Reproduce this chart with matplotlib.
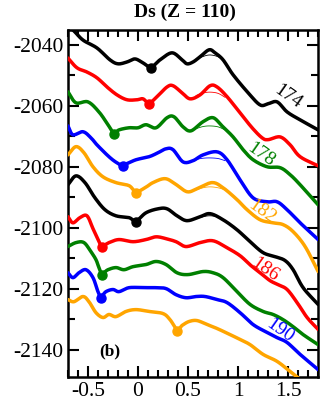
import numpy as np
import matplotlib
matplotlib.use("Agg")
import matplotlib.pyplot as plt
from matplotlib.ticker import MultipleLocator

plt.rcParams['font.family'] = ['Liberation Serif', 'DejaVu Serif']

neutrons = [174, 176, 178, 180, 182, 184, 186, 188, 190, 192]
colors = ['black', 'red', 'green', 'blue', 'orange'] * 2

x174 = [-0.70, -0.65, -0.55, -0.41, -0.28, -0.20, -0.11, -0.03, 0.05, 0.13, 0.22, 0.34, 0.44, 0.49, 0.55, 0.62, 0.71, 0.77, 0.85, 0.95, 1.10, 1.22, 1.30, 1.39, 1.49, 1.62, 1.80]
e174 = [-2034.4, -2035.1, -2038.4, -2041.0, -2044.9, -2046.2, -2045.6, -2044.6, -2045.9, -2047.3, -2044.9, -2042.6, -2044.9, -2046.2, -2045.6, -2043.9, -2041.6, -2042.6, -2044.9, -2049.8, -2055.7, -2059.7, -2059.3, -2058.7, -2062.0, -2064.6, -2067.9]

x176 = [-0.70, -0.61, -0.51, -0.41, -0.31, -0.21, -0.11, -0.01, 0.05, 0.11, 0.19, 0.29, 0.35, 0.44, 0.52, 0.62, 0.72, 0.79, 0.89, 1.02, 1.14, 1.24, 1.30, 1.42, 1.52, 1.62, 1.80]
e176 = [-2044.3, -2047.5, -2048.9, -2050.8, -2053.8, -2056.4, -2058.0, -2058.0, -2057.7, -2059.1, -2057.0, -2053.8, -2053.4, -2055.7, -2057.7, -2056.4, -2053.4, -2053.8, -2057.0, -2062.3, -2067.2, -2070.5, -2071.1, -2070.2, -2072.8, -2076.7, -2079.7]

x178 = [-0.70, -0.62, -0.50, -0.39, -0.30, -0.24, -0.19, -0.09, 0.00, 0.08, 0.18, 0.29, 0.36, 0.45, 0.53, 0.65, 0.75, 0.84, 0.95, 1.05, 1.15, 1.29, 1.42, 1.52, 1.62, 1.80]
e178 = [-2055.4, -2059.0, -2058.7, -2062.0, -2066.2, -2069.0, -2067.9, -2067.2, -2067.2, -2066.2, -2067.2, -2063.9, -2063.6, -2066.9, -2068.2, -2065.2, -2063.9, -2066.6, -2070.2, -2074.4, -2077.7, -2080.0, -2080.3, -2082.6, -2085.9, -2092.5]

x180 = [-0.70, -0.65, -0.55, -0.47, -0.41, -0.29, -0.21, -0.15, -0.02, 0.11, 0.20, 0.28, 0.35, 0.45, 0.55, 0.65, 0.79, 0.89, 1.02, 1.15, 1.29, 1.39, 1.49, 1.62, 1.80]
e180 = [-2066.6, -2069.5, -2068.5, -2070.5, -2072.8, -2076.7, -2078.7, -2079.4, -2077.7, -2076.7, -2075.4, -2074.1, -2074.4, -2078.4, -2078.0, -2076.1, -2075.1, -2077.7, -2084.3, -2090.2, -2091.5, -2091.5, -2094.1, -2098.4, -2103.9]

x182 = [-0.70, -0.62, -0.54, -0.45, -0.35, -0.22, -0.09, -0.02, 0.07, 0.15, 0.27, 0.37, 0.49, 0.59, 0.74, 0.85, 0.99, 1.09, 1.22, 1.35, 1.45, 1.55, 1.67, 1.80]
e182 = [-2076.1, -2073.4, -2075.4, -2080.0, -2083.3, -2085.2, -2086.2, -2088.2, -2086.9, -2085.2, -2083.9, -2085.6, -2088.2, -2087.2, -2085.2, -2086.9, -2090.8, -2094.1, -2097.4, -2098.4, -2099.0, -2101.3, -2106.2, -2114.4]

x184 = [-0.70, -0.62, -0.53, -0.43, -0.33, -0.22, -0.09, -0.02, 0.08, 0.20, 0.29, 0.39, 0.49, 0.62, 0.72, 0.85, 0.99, 1.12, 1.25, 1.37, 1.47, 1.55, 1.65, 1.80]
e184 = [-2085.9, -2083.0, -2085.2, -2090.2, -2094.1, -2096.1, -2096.7, -2097.8, -2095.1, -2093.8, -2093.8, -2096.1, -2097.7, -2096.4, -2095.4, -2097.4, -2100.7, -2104.6, -2108.2, -2109.5, -2110.8, -2113.8, -2119.7, -2125.2]

x186 = [-0.70, -0.65, -0.58, -0.51, -0.45, -0.39, -0.36, -0.29, -0.19, -0.05, 0.08, 0.18, 0.28, 0.38, 0.48, 0.62, 0.75, 0.89, 1.02, 1.12, 1.22, 1.32, 1.40, 1.49, 1.59, 1.69, 1.80]
e186 = [-2096.4, -2098.4, -2096.7, -2096.1, -2100.3, -2104.6, -2106.0, -2104.9, -2103.9, -2104.6, -2103.9, -2103.0, -2103.6, -2104.6, -2106.2, -2104.9, -2104.3, -2106.6, -2109.2, -2112.2, -2114.8, -2117.4, -2118.7, -2120.3, -2124.6, -2129.5, -2133.4]

x188 = [-0.70, -0.62, -0.54, -0.47, -0.42, -0.39, -0.36, -0.30, -0.22, -0.14, -0.05, 0.08, 0.18, 0.28, 0.39, 0.50, 0.65, 0.75, 0.85, 0.99, 1.12, 1.25, 1.35, 1.45, 1.55, 1.65, 1.80]
e188 = [-2106.2, -2104.9, -2104.9, -2107.9, -2110.5, -2113.1, -2115.0, -2113.8, -2113.1, -2113.8, -2112.8, -2112.1, -2111.1, -2112.1, -2114.8, -2115.4, -2114.4, -2114.8, -2116.4, -2121.0, -2125.2, -2127.5, -2128.5, -2130.2, -2132.5, -2135.1, -2138.4]

x190 = [-0.70, -0.65, -0.59, -0.52, -0.45, -0.40, -0.37, -0.32, -0.25, -0.19, -0.09, 0.05, 0.18, 0.28, 0.38, 0.48, 0.58, 0.67, 0.79, 0.89, 1.02, 1.15, 1.29, 1.39, 1.49, 1.62, 1.80]
e190 = [-2114.8, -2116.4, -2114.8, -2113.8, -2116.4, -2121.0, -2122.6, -2121.0, -2120.3, -2121.0, -2119.7, -2119.7, -2119.7, -2120.0, -2122.0, -2123.0, -2122.6, -2122.6, -2123.6, -2124.6, -2127.9, -2131.8, -2134.4, -2136.1, -2137.7, -2141.6, -2146.6]

x192 = [-0.70, -0.64, -0.55, -0.49, -0.42, -0.35, -0.29, -0.22, -0.12, -0.02, 0.11, 0.25, 0.32, 0.39, 0.44, 0.51, 0.59, 0.69, 0.79, 0.92, 1.02, 1.12, 1.25, 1.39, 1.52, 1.62]
e192 = [-2123.6, -2124.3, -2122.6, -2124.3, -2127.9, -2129.5, -2128.5, -2129.2, -2127.5, -2126.9, -2127.5, -2128.2, -2130.2, -2133.4, -2132.1, -2130.8, -2130.5, -2131.8, -2133.1, -2135.1, -2136.7, -2138.4, -2141.6, -2143.9, -2147.2, -2149.8]

curves_x = [x174, x176, x178, x180, x182, x184, x186, x188, x190, x192]
curves_e = [e174, e176, e178, e180, e182, e184, e186, e188, e190, e192]

# ground-state minima (dots)
gs_x = [0.13, 0.11, -0.24, -0.15, -0.02, -0.02, -0.36, -0.36, -0.37, 0.39]
gs_e = [-2047.5, -2059.5, -2069.3, -2079.7, -2088.5, -2098.0, -2106.2, -2115.4, -2123.0, -2133.8]

# thin lines (alternative calculation near the outer barrier)
thin_x = [0.58, 0.65, 0.72, 0.80, 0.87]
thin_e = [
    [-2044.9, -2043.8, -2043.3, -2043.9, -2045.5],
    [-2056.6, -2055.8, -2055.5, -2055.9, -2057.2],
    [-2067.5, -2066.8, -2066.6, -2066.9, -2067.9],
    [-2077.6, -2077.2, -2077.1, -2077.3, -2078.0],
    [-2087.6, -2086.9, -2086.6, -2086.9, -2087.6],
    [-2097.0, -2096.4, -2096.1, -2096.5, -2097.6],
]

labels = ['174', '178', '182', '186', '190']
label_idx = [0, 2, 4, 6, 8]
label_x = [1.50, 1.23, 1.24, 1.27, 1.42]
label_e = [-2057.0, -2076.1, -2094.8, -2113.8, -2133.8]


def smooth(xs, ys, n=12):
    xs = np.asarray(xs, float)
    ys = np.asarray(ys, float)
    px = np.concatenate([[2 * xs[0] - xs[1]], xs, [2 * xs[-1] - xs[-2]]])
    py = np.concatenate([[2 * ys[0] - ys[1]], ys, [2 * ys[-1] - ys[-2]]])
    outx, outy = [], []
    for i in range(1, len(px) - 2):
        t = np.linspace(0, 1, n, endpoint=False)
        for arr, out in ((px, outx), (py, outy)):
            p0, p1, p2, p3 = arr[i - 1], arr[i], arr[i + 1], arr[i + 2]
            out.extend(0.5 * ((2 * p1) + (-p0 + p2) * t + (2 * p0 - 5 * p1 + 4 * p2 - p3) * t ** 2
                              + (-p0 + 3 * p1 - 3 * p2 + p3) * t ** 3))
    outx.append(xs[-1])
    outy.append(ys[-1])
    return np.array(outx), np.array(outy)


fig = plt.figure(figsize=(3.22, 4.04), dpi=100)
ax = fig.add_axes([0.211, 0.067, 0.777, 0.8595])

for i, (xs, es) in enumerate(zip(curves_x, curves_e)):
    sx, sy = smooth(xs, es)
    ax.plot(sx, sy, color=colors[i], lw=2.5, solid_capstyle='round', zorder=3)
    ax.plot([gs_x[i]], [gs_e[i]], 'o', color=colors[i], ms=6.5, zorder=4)

for i, te in enumerate(thin_e):
    sx, sy = smooth(thin_x, te, n=8)
    ax.plot(sx, sy, color=colors[i], lw=0.6, zorder=2)

for lab, li, lx, le in zip(labels, label_idx, label_x, label_e):
    ax.text(lx, le, lab, color=colors[li], fontsize=14, rotation=-35,
            ha='center', va='center', zorder=5)

ax.text(-0.28, -2140.7, '(b)', fontsize=12.5, fontweight='bold', ha='center', va='center')

ax.set_xlim(-0.7, 1.8)
ax.set_ylim(-2149, -2035)
ax.xaxis.set_minor_locator(MultipleLocator(0.1))
ax.yaxis.set_minor_locator(MultipleLocator(10))
ax.set_xticks([-0.5, 0, 0.5, 1, 1.5])
ax.set_xticklabels(['-0.5', '0', '0.5', '1', '1.5'])
ax.set_yticks([-2040, -2060, -2080, -2100, -2120, -2140])
ax.set_yticklabels(['-2040', '-2060', '-2080', '-2100', '-2120', '-2140'])
ax.tick_params(which='both', direction='in', top=True, right=True, width=1.5, labelsize=15.5)
ax.tick_params(which='major', length=8)
ax.tick_params(which='minor', length=5)
ax.tick_params(axis='x', pad=4)
ax.tick_params(axis='y', pad=3)
for s in ax.spines.values():
    s.set_linewidth(1.8)

fig.text(0.575, 0.97, 'Ds (Z = 110)', fontsize=14, fontweight='bold', ha='center', va='center')

fig.savefig('out.png', dpi=100)
